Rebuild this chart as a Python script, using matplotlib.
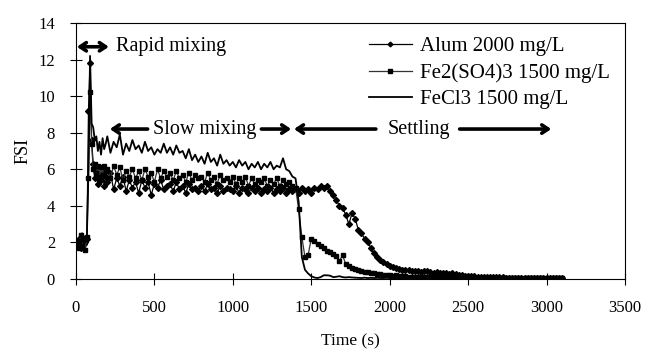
import matplotlib
matplotlib.use("Agg")
import matplotlib.pyplot as plt
import numpy as np

plt.rcParams['font.family'] = ['Liberation Serif', 'DejaVu Serif']

# sampling times (s)
t_fast = list(range(0, 200, 10))
t_slow = list(range(200, 3101, 20))
time = np.array(t_fast + t_slow)

alum_fast = [2.0, 1.8, 2.2, 1.7, 2.3, 1.9, 2.0, 2.2, 9.2, 11.8, 7.6, 6.3, 5.5, 5.9, 5.2, 5.7, 5.4, 5.8, 5.1, 5.6]
fe2_fast = [1.9, 2.1, 1.7, 2.4, 1.8, 2.2, 1.6, 2.3, 5.5, 10.2, 7.4, 6.0, 6.3, 5.8, 6.2, 5.6, 6.1, 5.7, 6.2, 5.9]
fecl3_fast = [2.0, 1.9, 2.1, 1.8, 2.5, 1.9, 2.1, 2.4, 6.0, 12.2, 8.5, 8.3, 7.6, 7.8, 7.0, 7.5, 6.8, 7.7, 7.1, 7.4]

alum_slow = [
    5.3, 5.8, 4.9, 5.5, 5.1, 5.6, 4.8, 5.4, 5.0, 5.3,
    4.7, 5.4, 5.0, 5.3, 4.6, 5.2, 5.0, 5.4, 4.9, 5.1,
    5.2, 4.8, 5.3, 4.9, 5.1, 4.7, 5.2, 4.9, 5.0, 4.8,
    5.1, 4.8, 5.2, 4.9, 5.0, 4.7, 5.1, 4.8, 5.0, 4.9,
    4.8, 5.1, 4.7, 5.0, 4.9, 4.7, 5.0, 4.8, 5.0, 4.7,
    4.9, 4.8, 5.0, 4.7, 4.9, 4.8, 5.0, 4.7, 4.9, 4.8,
    4.9, 4.7, 5.0, 4.8, 4.9, 4.7, 5.0, 4.9, 5.1, 5.0,
    5.1, 4.8, 4.6, 4.3, 4.0, 3.9, 3.5, 3.0, 3.6, 3.3,
    2.7, 2.5, 2.2, 2.0, 1.7, 1.4, 1.2, 1.05, 0.9, 0.8,
    0.7, 0.65, 0.6, 0.55, 0.5, 0.5, 0.48, 0.45, 0.42, 0.45,
    0.4, 0.45, 0.42, 0.38, 0.35, 0.4, 0.33, 0.3, 0.32, 0.28,
    0.35, 0.25, 0.22, 0.2, 0.18, 0.16, 0.15, 0.14, 0.12, 0.12,
    0.1, 0.1, 0.09, 0.09, 0.08, 0.08, 0.08, 0.07, 0.07, 0.07,
    0.06, 0.07, 0.06, 0.06, 0.07, 0.06, 0.05, 0.06, 0.06, 0.05,
    0.06, 0.05, 0.06, 0.05, 0.05, 0.06,
]
fe2_slow = [
    6.0, 5.5, 6.2, 5.7, 6.1, 5.4, 5.9, 5.6, 6.0, 5.5,
    5.9, 5.4, 6.0, 5.6, 5.8, 5.3, 6.0, 5.5, 5.9, 5.6,
    5.8, 5.4, 5.9, 5.5, 5.7, 5.3, 5.8, 5.4, 5.7, 5.5,
    5.6, 5.3, 5.8, 5.4, 5.6, 5.2, 5.7, 5.4, 5.5, 5.3,
    5.6, 5.2, 5.5, 5.3, 5.6, 5.1, 5.5, 5.2, 5.4, 5.3,
    5.5, 5.1, 5.4, 5.2, 5.5, 5.1, 5.4, 5.2, 5.3, 5.1,
    5.0, 3.8, 2.3, 1.2, 1.3, 2.2, 2.1, 1.9, 1.8, 1.7,
    1.55, 1.45, 1.35, 1.25, 1.0, 1.3, 0.8, 0.7, 0.6, 0.55,
    0.5, 0.45, 0.4, 0.38, 0.35, 0.3, 0.28, 0.25, 0.22, 0.2,
    0.2, 0.18, 0.2, 0.16, 0.15, 0.15, 0.13, 0.12, 0.12, 0.1,
    0.1, 0.1, 0.09, 0.1, 0.08, 0.08, 0.07, 0.08, 0.07, 0.06,
    0.06, 0.06, 0.05, 0.06, 0.05, 0.05, 0.06, 0.05, 0.05, 0.04,
    0.05, 0.04, 0.05, 0.04, 0.04, 0.05, 0.04, 0.04, 0.05, 0.04,
    0.04, 0.05, 0.04, 0.04, 0.04, 0.05, 0.04, 0.04, 0.04, 0.04,
    0.04, 0.04, 0.05, 0.04, 0.04, 0.04,
]
fecl3_slow = [
    7.8, 6.9, 7.5, 7.2, 7.9, 6.8, 7.4, 7.0, 7.6, 7.1,
    7.3, 6.9, 7.5, 7.0, 7.2, 6.8, 7.1, 6.9, 7.4, 6.9,
    7.2, 6.8, 7.3, 6.9, 7.0, 6.6, 7.1, 6.5, 6.8, 6.4,
    6.7, 6.3, 6.9, 6.4, 6.6, 6.2, 6.8, 6.3, 6.5, 6.2,
    6.4, 6.1, 6.5, 6.2, 6.4, 6.0, 6.3, 6.1, 6.4, 6.0,
    6.3, 6.1, 6.4, 6.0, 6.2, 6.1, 6.6, 6.0, 5.9, 5.6,
    5.5, 4.2, 1.2, 0.5, 0.3, 0.15, 0.08, 0.05, 0.1, 0.2,
    0.2, 0.18, 0.1, 0.12, 0.15, 0.1, 0.08, 0.1, 0.08, 0.07,
    0.06, 0.05, 0.07, 0.05, 0.06, 0.05, 0.06, 0.05, 0.05, 0.06,
    0.05, 0.04, 0.05, 0.05, 0.04, 0.05, 0.04, 0.05, 0.04, 0.04,
    0.04, 0.05, 0.04, 0.04, 0.04, 0.05, 0.04, 0.04, 0.04, 0.04,
    0.04, 0.04, 0.04, 0.04, 0.04, 0.04, 0.04, 0.04, 0.04, 0.04,
    0.04, 0.04, 0.04, 0.04, 0.04, 0.04, 0.04, 0.04, 0.04, 0.04,
    0.04, 0.04, 0.04, 0.04, 0.04, 0.04, 0.04, 0.04, 0.04, 0.04,
    0.04, 0.04, 0.04, 0.04, 0.04, 0.04,
]

alum = np.array(alum_fast + alum_slow)
fe2 = np.array(fe2_fast + fe2_slow)
fecl3 = np.array(fecl3_fast + fecl3_slow)

series_labels = ['Alum 2000 mg/L', 'Fe2(SO4)3 1500 mg/L', 'FeCl3 1500 mg/L']
x_ticks = [0, 500, 1000, 1500, 2000, 2500, 3000, 3500]
y_ticks = [0, 2, 4, 6, 8, 10, 12, 14]

fig = plt.figure(figsize=(6.49, 3.54), dpi=100)
ax = fig.add_axes([0.117, 0.212, 0.846, 0.723])

ax.plot(time, alum, color='black', lw=0.9, marker='D', ms=3.0, label=series_labels[0])
ax.plot(time, fe2, color='#333333', lw=0.9, marker='s', ms=3.0, mfc='black', mec='black', label=series_labels[1])
ax.plot(time, fecl3, color='black', lw=1.3, label=series_labels[2])

ax.set_xlim(0, 3500)
ax.set_ylim(0, 14)
ax.set_xticks(x_ticks)
ax.set_yticks(y_ticks)
ax.tick_params(direction='inout', length=8, width=0.8, labelsize=12, pad=11)
for s in ax.spines.values():
    s.set_linewidth(0.8)

ax.set_xlabel('Time (s)', fontsize=12.5, labelpad=13)
ax.set_ylabel('FSI', fontsize=13, labelpad=5)

leg = ax.legend(loc='upper right', bbox_to_anchor=(1.006, 1.02), frameon=False,
                fontsize=15, handlelength=2.1, handletextpad=0.35, labelspacing=0.33,
                numpoints=1, markerscale=0.8)

akw = dict(arrowprops=dict(arrowstyle='->,head_length=0.45,head_width=0.3', lw=2.6, color='black',
                           shrinkA=0, shrinkB=0))
ax.annotate('', xy=(6, 12.7), xytext=(210, 12.7),
            arrowprops=dict(arrowstyle='<->,head_length=0.45,head_width=0.3', lw=2.6, color='black',
                            shrinkA=0, shrinkB=0))
ax.text(254, 12.7, 'Rapid mixing', fontsize=14.5, va='center', ha='left')

ax.annotate('', xy=(216, 8.2), xytext=(457, 8.2), **akw)
ax.text(490, 8.2, 'Slow mixing', fontsize=14.5, va='center', ha='left')
ax.annotate('', xy=(1372, 8.2), xytext=(1182, 8.2), **akw)

ax.annotate('', xy=(1390, 8.2), xytext=(1912, 8.2), **akw)
ax.text(1990, 8.2, 'Settling', fontsize=14.5, va='center', ha='left')
ax.annotate('', xy=(3030, 8.2), xytext=(2446, 8.2), **akw)

fig.savefig('out.png', dpi=100)
